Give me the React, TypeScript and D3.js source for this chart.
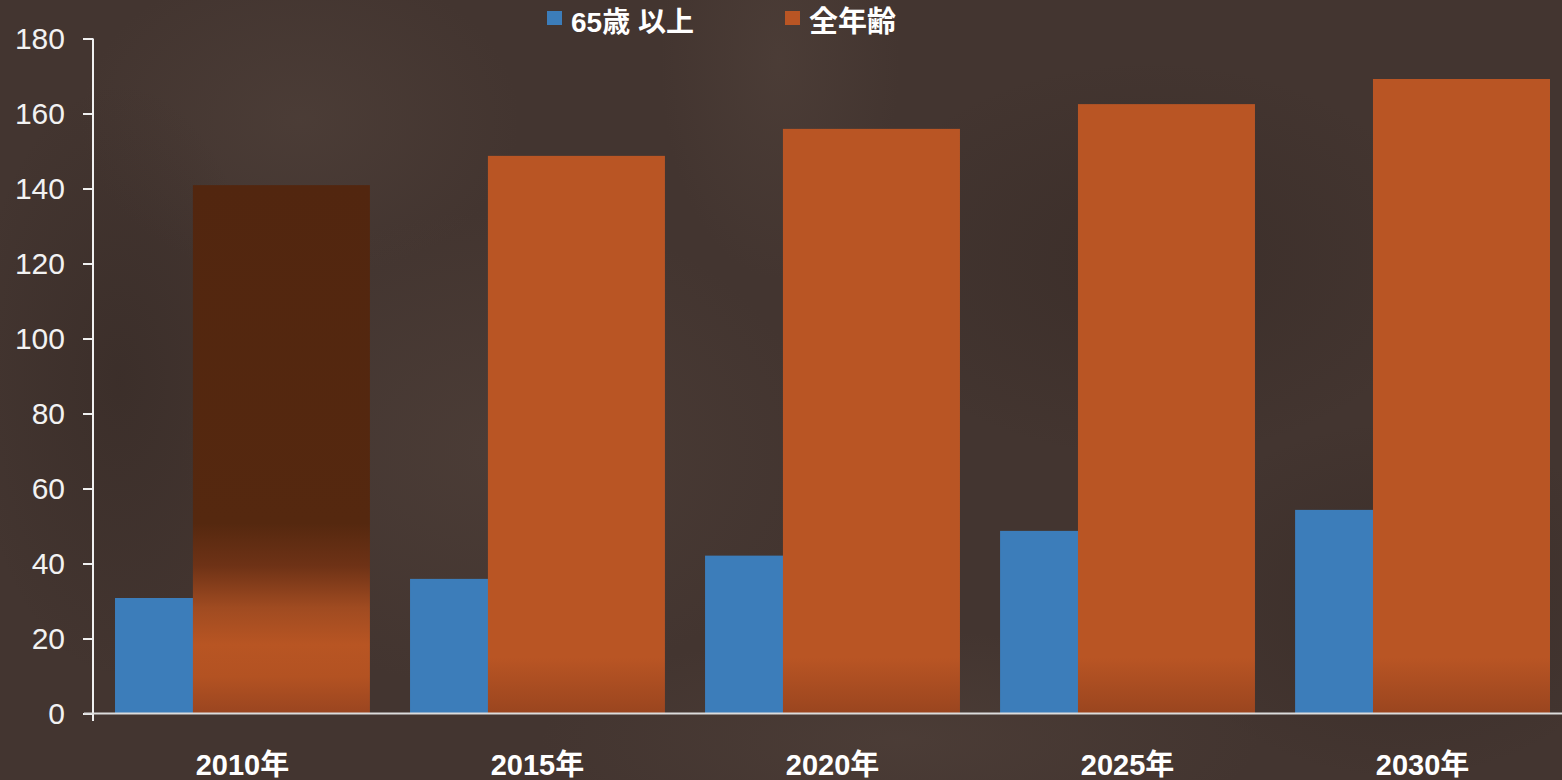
import React, { useRef, useEffect } from "react";
import * as d3 from "d3";

// chart data
const years = ["2010年", "2015年", "2020年", "2025年", "2030年"];
const over65 = [30.8, 35.9, 42.1, 48.7, 54.3];
const allAges = [140.9, 148.7, 155.9, 162.5, 169.2];
const yTicks = [0, 20, 40, 60, 80, 100, 120, 140, 160, 180];
const legendLabels = ["65歳 以上", "全年齢"];

const width = 1562;
const height = 780;
const BLUE = "#3c7dba";
const ORANGE = "#b95524";

const App = () => {
  const container = useRef<SVGSVGElement>(null);

  useEffect(() => {
    const svg = d3.select(container.current);
    svg.selectAll("*").remove();

    const defs = svg.append("defs");

    // soft light / dark patches for the background
    const light = defs.append("radialGradient").attr("id", "light");
    light.append("stop").attr("offset", 0).attr("stop-color", "#5a4a42").attr("stop-opacity", 0.35);
    light.append("stop").attr("offset", 1).attr("stop-color", "#5a4a42").attr("stop-opacity", 0);
    const dark = defs.append("radialGradient").attr("id", "dark");
    dark.append("stop").attr("offset", 0).attr("stop-color", "#2e231f").attr("stop-opacity", 0.35);
    dark.append("stop").attr("offset", 1).attr("stop-color", "#2e231f").attr("stop-opacity", 0);

    // first bar: dark top fading to orange
    const g2010 = defs.append("linearGradient").attr("id", "grad2010").attr("x1", 0).attr("y1", 0).attr("x2", 0).attr("y2", 1);
    [
      [0, "#52260f"],
      [0.64, "#55280f"],
      [0.72, "#6e3216"],
      [0.8, "#a04b21"],
      [0.87, "#b85523"],
      [0.93, "#b35222"],
      [1, "#9a4520"],
    ].forEach(([o, c]) => g2010.append("stop").attr("offset", o).attr("stop-color", c));

    const y = d3.scaleLinear().domain([0, 180]).range([713.5, 38.5]);

    const gBar = defs.append("linearGradient").attr("id", "gradBar").attr("gradientUnits", "userSpaceOnUse")
      .attr("x1", 0).attr("x2", 0).attr("y1", y(15)).attr("y2", y(0));
    gBar.append("stop").attr("offset", 0).attr("stop-color", ORANGE);
    gBar.append("stop").attr("offset", 1).attr("stop-color", "#9a451f");

    svg.append("rect").attr("width", width).attr("height", height).attr("fill", "#433530");

    const blobs = svg.append("g");
    [
      [300, 120, 220, 160, "light"],
      [780, 60, 120, 220, "light"],
      [1150, 260, 300, 200, "dark"],
      [500, 450, 320, 240, "light"],
      [1400, 600, 240, 180, "dark"],
      [900, 740, 360, 110, "light"],
      [120, 380, 150, 300, "dark"],
    ].forEach(([cx, cy, rx, ry, id]) =>
      blobs.append("ellipse").attr("cx", cx).attr("cy", cy).attr("rx", rx).attr("ry", ry).attr("fill", `url(#${id})`)
    );

    // scales
    const x = d3.scaleBand().domain(years).range([93, 1572]).paddingInner(0.136).paddingOuter(0.0746);
    const bw = x.bandwidth();
    const barW = bw / 1.44; // two bars overlapping inside each group

    const bars = svg.append("g");
    bars.selectAll(".blue")
      .data(years)
      .enter()
      .append("rect")
      .attr("x", (d) => x(d)!)
      .attr("y", (d, i) => y(over65[i]))
      .attr("width", barW)
      .attr("height", (d, i) => y(0) - y(over65[i]))
      .attr("fill", BLUE);

    bars.selectAll(".orange")
      .data(years)
      .enter()
      .append("rect")
      .attr("x", (d) => x(d)! + bw - barW)
      .attr("y", (d, i) => y(allAges[i]))
      .attr("width", barW)
      .attr("height", (d, i) => y(0) - y(allAges[i]))
      .attr("fill", (d, i) => (i === 0 ? "url(#grad2010)" : "url(#gradBar)"));

    // y axis
    const yAxis = d3.axisLeft(y).tickValues(yTicks).tickSize(10).tickSizeOuter(0).tickPadding(18);
    const ya = svg.append("g").attr("transform", "translate(93,0)").call(yAxis);
    ya.select(".domain").remove();
    ya.selectAll("line").attr("stroke", "#f0f0f0").attr("stroke-width", 2);
    ya.selectAll("text")
      .attr("fill", "#f2f2f2")
      .style("font-family", "'Liberation Sans', Arial, sans-serif")
      .style("font-size", "30px");

    svg.append("line").attr("x1", 93).attr("x2", 93).attr("y1", y(180)).attr("y2", 721)
      .attr("stroke", "#f0f0f0").attr("stroke-width", 2);
    svg.append("line").attr("x1", 84).attr("x2", width).attr("y1", y(0)).attr("y2", y(0))
      .attr("stroke", "#dcdcdc").attr("stroke-width", 2);

    // x axis labels
    const xAxis = d3.axisBottom(x).tickSize(0);
    const xa = svg.append("g").call(xAxis);
    xa.select(".domain").remove();
    xa.selectAll("text")
      .attr("y", 775)
      .attr("dy", 0)
      .attr("fill", "#ffffff")
      .style("font-family", "'Liberation Sans', Arial, 'Noto Sans CJK JP', sans-serif")
      .style("font-weight", "bold")
      .style("font-size", "29px");

    // legend
    const legend = svg.append("g");
    const legX = [547, 785];
    [BLUE, ORANGE].forEach((c, i) => {
      legend.append("rect").attr("x", legX[i]).attr("y", 11).attr("width", 15).attr("height", 14).attr("fill", c);
      legend.append("text")
        .attr("x", legX[i] + 24)
        .attr("y", 32)
        .attr("fill", "#ffffff")
        .style("font-family", "'Liberation Sans', Arial, 'Noto Sans CJK JP', sans-serif")
        .style("font-weight", "bold")
        .style("font-size", i === 1 ? "29px" : "28px")
        .text(legendLabels[i]);
    });
  }, []);

  return (
    <div style={{ position: "absolute", left: 0, top: 0, width: width, height: height }}>
      <svg ref={container} width={width} height={height} style={{ display: "block" }} />
    </div>
  );
};

export default App;
